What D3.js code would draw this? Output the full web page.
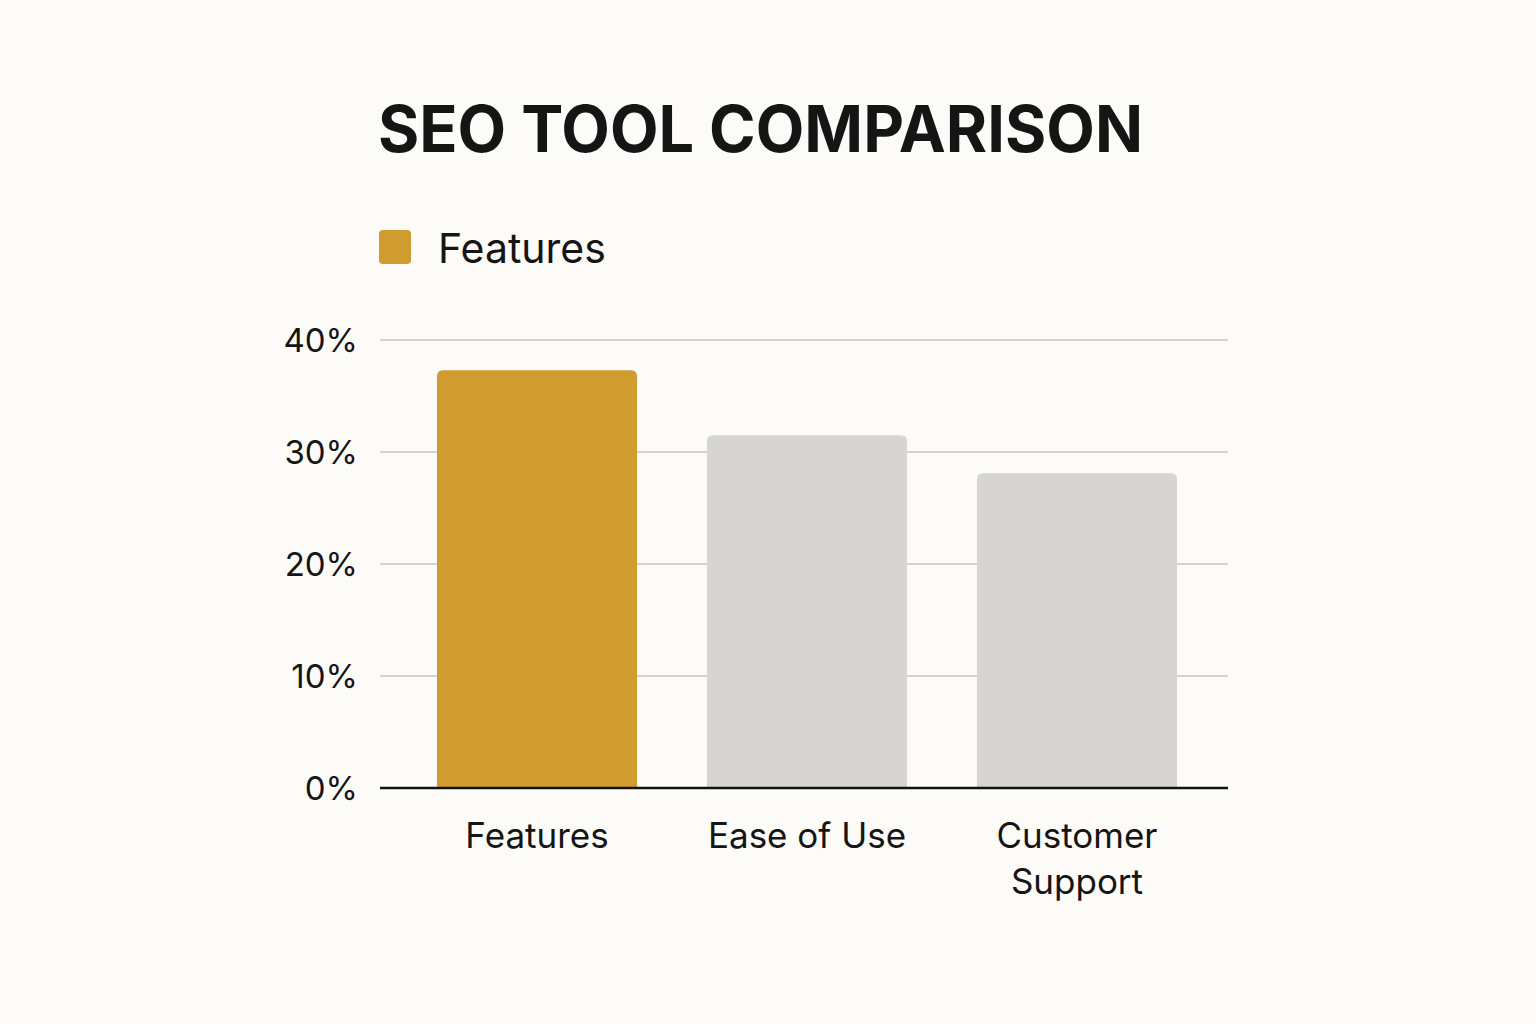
<!DOCTYPE html>
<html>
<head>
<meta charset="utf-8">
<script src="https://cdn.jsdelivr.net/npm/d3@7"></script>
<style>
  html, body { margin: 0; padding: 0; background: #fcfbf7; }
  svg { display: block; font-family: Inter, "Noto Sans", sans-serif; }
</style>
</head>
<body>
<svg id="chart" width="1536" height="1024"></svg>
<script>
const categories = ["Features", "Ease of Use", "Customer Support"];
const values = [37.3, 31.5, 28.1];
const yTicks = [0, 10, 20, 30, 40];
const title = "SEO TOOL COMPARISON";
const legendLabel = "Features";

(function () {
const svg = d3.select("#chart");
const W = 1536, H = 1024;
svg.append("rect").attr("width", W).attr("height", H).attr("fill", "#fcfbf7");

const pLeft = 380, pRight = 1228, pTop = 340, pBottom = 788;
const x = d3.scaleBand().domain(categories).range([pLeft + 3, pRight + 3])
  .paddingInner(0.259).paddingOuter(0.2);
const y = d3.scaleLinear().domain([0, 40]).range([pBottom, pTop]);

// Title
svg.append("text").attr("x", 378).attr("y", 152)
  .attr("font-size", 64).attr("font-weight", 700).attr("fill", "#151515")
  .attr("textLength", 765).attr("lengthAdjust", "spacingAndGlyphs")
  .text(title);

// Legend
svg.append("rect").attr("x", 379).attr("y", 230).attr("width", 32).attr("height", 34)
  .attr("rx", 4).attr("fill", "#d09c30");
svg.append("text").attr("x", 438).attr("y", 263)
  .attr("font-size", 41).attr("fill", "#151515").text(legendLabel);

// Gridlines
svg.append("g").selectAll("line").data(yTicks.filter(d => d > 0)).join("line")
  .attr("x1", pLeft).attr("x2", pRight)
  .attr("y1", d => y(d)).attr("y2", d => y(d))
  .attr("stroke", "#d3d2ce").attr("stroke-width", 2);

const yAxis = d3.axisLeft(y).tickValues(yTicks).tickSize(0).tickPadding(0).tickFormat(d => d + "%");
const ga = svg.append("g").attr("transform", `translate(${pLeft - 22},0)`).call(yAxis);
ga.select(".domain").remove();
ga.selectAll("text").attr("font-size", 33).attr("fill", "#151515")
  .attr("font-family", "Inter, sans-serif").attr("dy", "0.35em");

// Bars with rounded top corners
const r = 6;
function barPath(x0, w, y0, y1) {
  return `M${x0},${y1} V${y0 + r} Q${x0},${y0} ${x0 + r},${y0} H${x0 + w - r} Q${x0 + w},${y0} ${x0 + w},${y0 + r} V${y1} Z`;
}
svg.append("g").selectAll("path").data(categories).join("path")
  .attr("d", (d, i) => barPath(x(d), x.bandwidth(), y(values[i]), y(0)))
  .attr("fill", (d, i) => i === 0 ? "#d09c30" : "#d6d5d1");

// X axis line
svg.append("line").attr("x1", pLeft).attr("x2", pRight)
  .attr("y1", y(0)).attr("y2", y(0))
  .attr("stroke", "#111").attr("stroke-width", 2.5);

// X labels (wrap)
const xl = svg.append("g");
categories.forEach(c => {
  const cx = x(c) + x.bandwidth() / 2;
  const lines = c === "Customer Support" ? ["Customer", "Support"] : [c];
  lines.forEach((t, j) => {
    xl.append("text").attr("x", cx).attr("y", 848 + j * 46)
      .attr("text-anchor", "middle").attr("font-size", 35).attr("fill", "#151515")
      .text(t);
  });
});
})();
</script>
</body>
</html>
